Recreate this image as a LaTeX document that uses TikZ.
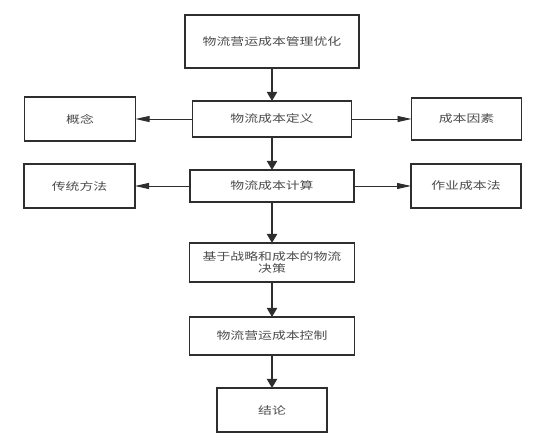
\documentclass[tikz,border=0pt]{standalone}
\usepackage{fontspec}
\usepackage{xcolor}
\usepackage{tikz}
\usetikzlibrary{arrows.meta,positioning}
\newfontfamily\cjk[FakeStretch=1.32]{Noto Sans CJK SC}
\definecolor{linegray}{HTML}{2E2E2E}
\definecolor{textgray}{HTML}{4A4A4A}

\begin{document}
\begin{tikzpicture}[node distance=33pt and 57pt,
  box/.style={draw=linegray,line width=1.3pt,align=center,inner sep=0pt,outer sep=0pt,text=textgray,
    font=\cjk\fontsize{10.5}{12}\selectfont,minimum width=164pt,minimum height=34pt},
  sidebox/.style={box,minimum width=111pt,minimum height=44pt},
  varrow/.style={-{Triangle[length=9pt,width=10pt]},draw=linegray,line width=2pt},
  harrow/.style={-{Triangle[length=14pt,width=6pt]},draw=linegray,line width=0.9pt}]
\useasboundingbox (0,0) rectangle (538pt,-435pt);
\node[box,minimum width=174pt,minimum height=53pt] (optim) at (272pt,-41.5pt) {物流营运成本管理优化};
\node[box,minimum width=159pt,minimum height=36pt,below=33pt of optim] (define) {物流成本定义};
\node[box,minimum height=32pt,below=33pt of define] (calc) {物流成本计算};
\node[box,minimum width=165pt,minimum height=39pt,below=41pt of calc] (decide) {基于战略和成本的物流\\决策};
\node[box,minimum width=165pt,minimum height=38pt,below=35pt of decide] (control) {物流营运成本控制};
\node[box,minimum width=110pt,minimum height=44pt,below=33pt of control] (concl) {结论};
\node[sidebox,left=57pt of define] (concept) {概念};
\node[sidebox,minimum width=110pt,minimum height=42pt,right=60pt of define] (factor) {成本因素};
\node[sidebox,left=55pt of calc] (tradition) {传统方法};
\node[sidebox,minimum width=110pt,right=57pt of calc] (abc) {作业成本法};
\draw[varrow] (optim)--(define);\draw[varrow] (define)--(calc);\draw[varrow] (calc)--(decide);
\draw[varrow] (decide)--(control);\draw[varrow] (control)--(concl);
\draw[harrow] (define)--(concept);\draw[harrow] (define)--(factor);
\draw[harrow] (calc)--(tradition);\draw[harrow] (calc)--(abc);
\end{tikzpicture}
\end{document}
